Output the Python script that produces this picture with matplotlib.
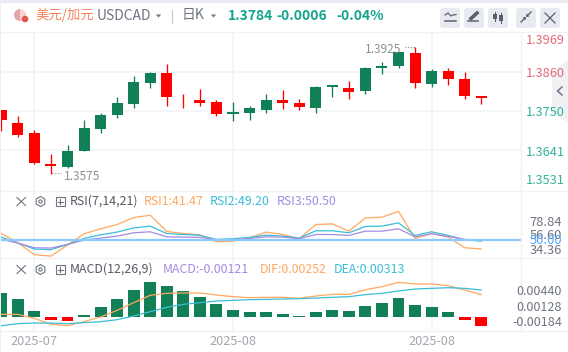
"""USDCAD daily candles with RSI and MACD panes."""

import matplotlib

matplotlib.use("Agg")
import matplotlib.pyplot as plt
import numpy as np
from matplotlib.patches import Circle, FancyBboxPatch, Polygon, Rectangle, RegularPolygon, Wedge

plt.rcParams["font.family"] = ["Noto Sans CJK SC", "DejaVu Sans"]

opens = [1.3752, 1.3716, 1.3689, 1.3604, 1.3595, 1.3639, 1.3700, 1.3738, 1.3768, 1.3826,
         1.3854, 1.3780, 1.3779, 1.3774, 1.3741, 1.3744, 1.3752, 1.3779, 1.3771, 1.3757,
         1.3816, 1.3812, 1.3804, 1.3867, 1.3873, 1.3909, 1.3823, 1.3859, 1.3837, 1.3790]
highs = [1.3752, 1.3735, 1.3697, 1.3631, 1.3656, 1.3724, 1.3744, 1.3788, 1.3845, 1.3856,
         1.3878, 1.3796, 1.3810, 1.3779, 1.3774, 1.3763, 1.3796, 1.3807, 1.3782, 1.3818,
         1.3819, 1.3832, 1.3870, 1.3884, 1.3911, 1.3925, 1.3865, 1.3867, 1.3856, 1.3790]
lows = [1.3695, 1.3678, 1.3604, 1.3575, 1.3593, 1.3639, 1.3689, 1.3730, 1.3757, 1.3812,
        1.3763, 1.3757, 1.3763, 1.3735, 1.3722, 1.3724, 1.3744, 1.3755, 1.3752, 1.3744,
        1.3788, 1.3782, 1.3796, 1.3851, 1.3867, 1.3812, 1.3815, 1.3821, 1.3782, 1.3768]
closes = [1.3724, 1.3683, 1.3605, 1.3599, 1.3639, 1.3702, 1.3738, 1.3771, 1.3829, 1.3854,
          1.3788, 1.3778, 1.3771, 1.3741, 1.3746, 1.3757, 1.3779, 1.3771, 1.3760, 1.3815,
          1.3819, 1.3801, 1.3867, 1.3873, 1.3911, 1.3826, 1.3859, 1.3837, 1.3790, 1.3785]

rsi1 = [56.9, 47.7, 35.8, 34.36, 45.4, 56.6, 61.6, 65.8, 72.8, 75.1, 58.9, 56.9, 55.6, 48.7, 49.3,
        52.6, 58.3, 55.9, 51.7, 65.8, 66.5, 59.2, 72.4, 73.1, 78.84, 52.0, 56.9, 53.3, 42.7, 41.47]
rsi2 = [53.3, 47.4, 41.4, 40.8, 46.0, 52.0, 55.6, 58.3, 62.5, 64.2, 56.9, 55.9, 55.0, 51.0, 51.7,
        53.0, 55.3, 54.3, 52.3, 59.6, 59.6, 57.6, 63.9, 64.2, 67.5, 55.0, 58.6, 55.0, 50.7, 49.2]
rsi3 = [51.0, 47.4, 42.7, 42.4, 46.0, 50.3, 52.3, 54.3, 57.6, 58.6, 53.6, 53.3, 53.0, 50.7, 50.7,
        52.0, 53.6, 53.3, 51.7, 55.9, 55.9, 55.0, 59.2, 59.2, 61.6, 53.6, 56.6, 54.0, 51.0, 50.5]

macd = [0.00320, 0.00240, 0.00080, -0.00040, -0.00053, 0.00027, 0.00134, 0.00240, 0.00360, 0.00467,
        0.00414, 0.00347, 0.00267, 0.00174, 0.00093, 0.00067, 0.00067, 0.00040, 0.00004, 0.00067,
        0.00093, 0.00080, 0.00147, 0.00187, 0.00254, 0.00160, 0.00134, 0.00067, -0.00040, -0.00120]
dif = [0.00031, 0.00031, -0.00022, -0.00102, -0.00120, -0.00067, -0.00004, 0.00085, 0.00187, 0.00285,
       0.00312, 0.00316, 0.00316, 0.00289, 0.00267, 0.00254, 0.00258, 0.00258, 0.00245, 0.00276,
       0.00298, 0.00298, 0.00360, 0.00401, 0.00458, 0.00436, 0.00436, 0.00414, 0.00356, 0.00294]
dea = [-0.00120, -0.00093, -0.00085, -0.00085, -0.00093, -0.00080, -0.00067, -0.00040, 0.00009, 0.00067,
       0.00125, 0.00165, 0.00187, 0.00209, 0.00218, 0.00227, 0.00231, 0.00236, 0.00240, 0.00249,
       0.00258, 0.00267, 0.00294, 0.00312, 0.00343, 0.00369, 0.00378, 0.00387, 0.00378, 0.00356]

date_ticks = [2, 14, 26]
date_labels = ["2025-07", "2025-08", "2025-08"]
price_grid = [1.3857, 1.3750, 1.3641]

W, H = 568, 352
UP, DOWN = "#118056", "#ff0000"
ORANGE, CYAN, PURPLE = "#ffa860", "#38bfd6", "#a48be2"
GREY = "#8b9099"
GRID = "#f2f4f7"
STEP = 16.55  # px per candle
X0 = 1.3  # px of first candle
RIGHT = 521


def pane(top, bottom, ylim):
    ax = fig.add_axes([0, 1 - bottom / H, RIGHT / W, (bottom - top) / H])
    ax.set_xlim(-X0 / STEP, (RIGHT - X0) / STEP)
    ax.set_ylim(*ylim)
    ax.patch.set_alpha(0)
    for spine in ax.spines.values():
        spine.set_visible(False)
    ax.set_yticks([])
    ax.set_xticks(date_ticks)
    ax.set_xticklabels([])
    ax.tick_params(length=0)
    ax.grid(axis="x", color=GRID, linewidth=1.3, zorder=0)
    return ax


fig = plt.figure(figsize=(W / 100, H / 100), dpi=100)
fig.patch.set_facecolor("white")

x = np.arange(len(closes))
o, h, l, c = map(np.array, (opens, highs, lows, closes))
colors = [UP if b >= a else DOWN for a, b in zip(o, c)]

# price pane
ax1 = pane(32.3, 190.7, (1.3530, 1.3965))
ax1.set_yticks(price_grid)
ax1.set_yticklabels([])
ax1.grid(axis="y", color=GRID, linewidth=1.3, zorder=0)
ax1.vlines(x, l, h, color=colors, linewidth=0.95, zorder=3)
ax1.bar(x, np.maximum(np.abs(c - o), 0.00012), bottom=np.minimum(o, c), width=0.665,
        color=colors, linewidth=0, zorder=4)

# RSI pane
ax2 = pane(190.7, 258, (32.5, 99.5))
ax2.plot(x, rsi1, color=ORANGE, linewidth=0.9, zorder=3)
ax2.plot(x, rsi2, color=CYAN, linewidth=0.9, zorder=3)
ax2.plot(x, rsi3, color=PURPLE, linewidth=0.9, zorder=3)
ax2.axhline(50, color="#8fc8fb", linewidth=1.6, zorder=4)

# MACD pane
ax3 = pane(258, 331, (-0.00191, 0.00783))
ax3.bar(x, macd, width=0.725, color=[UP if v >= 0 else DOWN for v in macd], linewidth=0, zorder=2)
ax3.plot(x, dif, color=ORANGE, linewidth=0.9, zorder=3)
ax3.plot(x, dea, color=CYAN, linewidth=0.9, zorder=3)
ax3.set_xticklabels(date_labels, fontsize=9.2, color="#a3a7ae")
ax3.tick_params(axis="x", pad=3)

# page furniture, text and icons in pixel coordinates
top = fig.add_axes([0, 0, 1, 1], zorder=10)
top.set_xlim(0, W)
top.set_ylim(H, 0)
top.axis("off")
top.patch.set_alpha(0)

top.add_patch(Rectangle((0, 0), W, 2.5, color="#e9ecf1", lw=0))
top.add_patch(Rectangle((0, 2.5), 1, H, color="#eef0f4", lw=0))
for y in (32.3, 190.7, 258, 331):
    top.plot([0, W], [y, y], color="#f0f2f5", lw=1)
top.plot([RIGHT, RIGHT], [32, 331], color="#f0f2f5", lw=1)


def label(px, py, s, color, size=9.4, ha="left", weight="normal"):
    top.text(px, py, s, color=color, fontsize=size, ha=ha, va="center", fontweight=weight)


def caret(px, py, color="#6f7480"):
    top.add_patch(Polygon([[px - 2.7, py - 1.5], [px + 2.7, py - 1.5], [px, py + 1.5]], color=color, lw=0))


# header
top.add_patch(Wedge((20, 15), 6, 90, 270, color="#e7a3a8", lw=0))
top.add_patch(Wedge((20, 15), 6, -90, 90, color="#f6d5d0", lw=0))
top.add_patch(Circle((25, 19), 3.3, color="#e2564c", lw=0))
label(35.5, 15, "美元/加元", "#f6825d", size=9.6)
label(97, 16.5, "USDCAD", "#6e7480", size=10)
caret(158.5, 16)
top.plot([172.3, 172.3], [10, 22.5], color="#c6cad1", lw=0.9)
label(182, 15, "日K", "#6e7480", size=10)
caret(213.5, 16)
label(227.5, 15.5, "1.3784", "#12a58c", size=10, weight="bold")
label(276, 15.5, "-0.0006", "#12a58c", size=10, weight="bold")
label(336, 15.5, "-0.04%", "#12a58c", size=10, weight="bold")

# toolbar buttons
for bx in (440, 464, 488, 516, 540):
    top.add_patch(FancyBboxPatch((bx + 2, 10), 16, 16, boxstyle="round,pad=2,rounding_size=3",
                                 fc="#e7eaf0", ec="none"))
ICON = "#5b606b"
top.plot([445, 448, 451, 453, 456], [15, 13, 16, 15, 14.5], color=ICON, lw=0.9)
top.plot([445, 456], [21, 21], color=ICON, lw=1.1)
top.plot([468, 478], [21, 21], color=ICON, lw=1.1)
top.plot([471, 477], [18.5, 13], color=ICON, lw=2.6)
top.plot([495, 495], [12, 21], color=ICON, lw=0.8)
top.add_patch(Rectangle((493, 14), 4, 5, color=ICON, lw=0))
top.plot([501, 501], [13, 23], color=ICON, lw=0.8)
top.add_patch(Rectangle((499, 15), 4, 6, color=ICON, lw=0))
top.plot([521, 525], [22, 18], color=ICON, lw=1)
top.add_patch(Polygon([[526, 17], [522.5, 17.5], [525.5, 20.5]], color=ICON, lw=0))
top.plot([527, 531], [16, 12], color=ICON, lw=1)
top.add_patch(Polygon([[526, 17], [529.5, 16.5], [526.5, 13.5]], color=ICON, lw=0))
top.plot([545, 555], [13, 23], color=ICON, lw=0.9)
top.plot([555, 545], [13, 23], color=ICON, lw=0.9)

# collapse tab
top.add_patch(Polygon([[568, 60], [552, 72], [552, 113], [568, 122]], color="#eff1f5", lw=0))
top.plot([562, 557.5, 562], [87, 91, 95], color="#6f7480", lw=1.1)

# price axis labels
for py, s, col in [(40.5, "1.3969", "#e2697a"), (73.5, "1.3860", "#e2697a"), (112.5, "1.3750", "#35b39c"),
                   (152.5, "1.3641", "#35b39c"), (180.5, "1.3531", "#35b39c")]:
    label(525.5, py, s, col, size=9.2)

# high / low marks
label(63.5, 176.5, "1.3575", GREY, size=8.6)
top.plot([51.5, 61], [173, 173], color=GREY, lw=0.8, ls=(0, (1, 1.5)))
label(401, 49.5, "1.3925", GREY, size=8.6, ha="right")
top.plot([405, 415], [46.5, 46.5], color=GREY, lw=0.8, ls=(0, (1, 1.5)))


def pane_icons(py):
    top.plot([17, 25.5], [py - 4, py + 4], color="#6e7480", lw=0.8)
    top.plot([25.5, 17], [py - 4, py + 4], color="#6e7480", lw=0.8)
    top.add_patch(RegularPolygon((40.5, py), 6, radius=5, fill=False, ec="#6e7480", lw=0.8))
    top.add_patch(Circle((40.5, py), 1.6, fill=False, ec="#6e7480", lw=0.8))
    top.add_patch(Rectangle((55.5, py - 4.5), 9, 9, fill=False, ec="#6e7480", lw=0.8))
    top.plot([57.5, 62.5], [py, py], color="#6e7480", lw=0.8)
    top.plot([60, 60], [py - 2.5, py + 2.5], color="#6e7480", lw=0.8)


# RSI legend and labels
pane_icons(201.5)
label(69.5, 201.5, "RSI(7,14,21)", "#555a64", size=8.9)
label(143.5, 201.5, "RSI1:41.47", ORANGE, size=8.9)
label(210, 201.5, "RSI2:49.20", CYAN, size=8.9)
label(276.5, 201.5, "RSI3:50.50", PURPLE, size=8.9)
for py, s, col in [(223, "78.84", "#6e7480"), (235.5, "56.60", "#6e7480"), (250, "34.36", "#6e7480"),
                   (241, "50.00", "#50aaff")]:
    label(562, py, s, col, size=9.3, ha="right")

# MACD legend and labels
pane_icons(269.5)
label(69.5, 269.5, "MACD(12,26,9)", "#555a64", size=8.9)
label(162.5, 269.5, "MACD:-0.00121", PURPLE, size=8.9)
label(260, 269.5, "DIF:0.00252", ORANGE, size=8.9)
label(334, 269.5, "DEA:0.00313", CYAN, size=8.9)
for py, s in [(291.5, "0.00440"), (307.5, "0.00128"), (322.5, "-0.00184")]:
    label(562, py, s, "#6e7480", size=9.1, ha="right")

fig.savefig("out.png", dpi=100, facecolor=fig.get_facecolor())
plt.close(fig)
